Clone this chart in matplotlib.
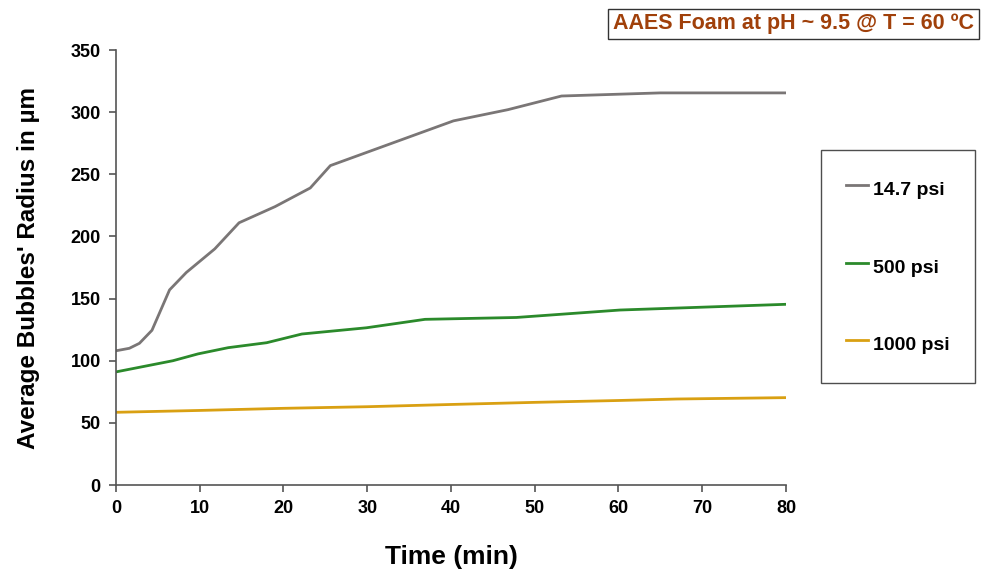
import matplotlib.pyplot as plt
import numpy as np

plt.rcParams['font.family'] = ['Liberation Sans', 'DejaVu Sans']
plt.rcParams['font.weight'] = 'bold'

#=========================================================#
# 14.7 psi
t_147 = [0, 1.6, 2.8, 4.3, 6.4, 8.4, 11.8, 14.7, 19.0, 23.2, 25.6, 40.3, 46.8, 53.2, 65.0, 80.0]
r_147 = [108, 110, 114, 124.5, 157, 171, 190, 211, 224, 239, 257, 293, 302, 313, 315.5, 315.5]

# 500 psi
t_500 = [0, 6.8, 9.8, 13.4, 18.0, 22.2, 29.9, 36.9, 47.8, 60.2, 80.0]
r_500 = [91, 100, 105.5, 110.5, 114.5, 121.5, 126.5, 133.3, 134.8, 140.8, 145.4]

# 1000 psi
t_1000 = [0, 10, 20, 30, 40, 50, 60, 67, 80]
r_1000 = [58.5, 60, 61.7, 63, 64.8, 66.5, 68, 69.2, 70.3]
#=========================================================#

fig = plt.figure(figsize=(9.81, 5.71), dpi=100)
ax = fig.add_axes([0.1182, 0.1506, 0.683, 0.7618])

ax.plot(t_147, r_147, color='#7a7676', linewidth=2, label='14.7 psi')
ax.plot(t_500, r_500, color='#2b8a2b', linewidth=2, label='500 psi')
ax.plot(t_1000, r_1000, color='#d9a012', linewidth=2, label='1000 psi')

ax.set_xlim(0, 80)
ax.set_ylim(0, 350)
ax.set_xticks(np.arange(0, 81, 10))
ax.set_yticks(np.arange(0, 351, 50))
for s in ['top', 'right']:
    ax.spines[s].set_visible(False)
for s in ['left', 'bottom']:
    ax.spines[s].set_color('#555555')
    ax.spines[s].set_linewidth(1.2)
ax.tick_params(axis='both', direction='out', length=5, width=1.2, color='#555555', labelsize=13, pad=6)
for lbl in ax.get_xticklabels() + ax.get_yticklabels():
    lbl.set_fontweight('bold')

ax.set_xlabel("Time (min)", fontsize=19, fontweight='bold', labelpad=20)
ax.set_ylabel("Average Bubbles' Radius in µm", fontsize=17.5, fontweight='bold', labelpad=22)

leg = fig.legend(loc='upper left', bbox_to_anchor=(0.8369, 0.7373), borderaxespad=0,
                 fontsize=14, handlelength=1.1, handleheight=1.8, handletextpad=0.3,
                 borderpad=1.3, labelspacing=2.57, frameon=True, fancybox=False)
leg.get_frame().set_edgecolor('#222222')
leg.get_frame().set_linewidth(1.0)
for txt in leg.get_texts():
    txt.set_fontweight('bold')

fig.text(0.993, 0.958, "AAES Foam at pH ~ 9.5 @ T = 60 ºC", ha='right', va='center',
         fontsize=15.5, fontweight='bold', color='#a0400a',
         bbox=dict(boxstyle='square,pad=0.22', facecolor='white', edgecolor='#333333', linewidth=1.0))

plt.savefig("out.png", dpi=100)
